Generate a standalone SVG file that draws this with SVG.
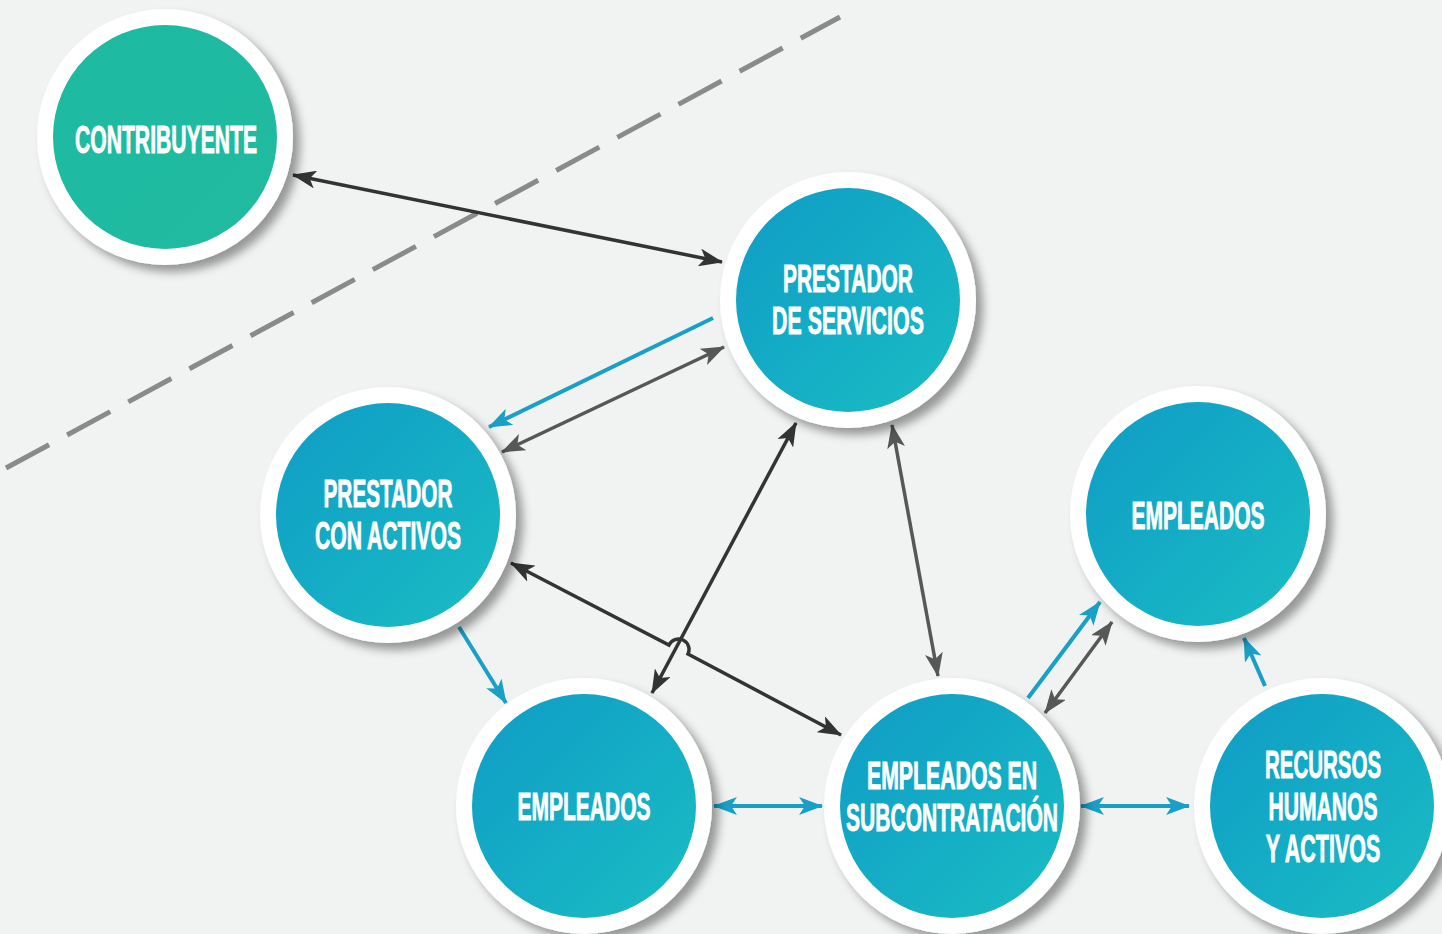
<svg xmlns="http://www.w3.org/2000/svg" width="1442" height="934" viewBox="0 0 1442 934">
<style>
.lbl{font-family:"Liberation Sans",Arial,sans-serif;font-weight:bold;font-size:38px;fill:#ffffff;stroke:#ffffff;stroke-width:0.9}
.ring{fill:#ffffff}
.dark{stroke:#333333;stroke-width:3.5;fill:none}
.gray{stroke:#575757;stroke-width:3.5;fill:none}
.blue{stroke:#1aa0c6;stroke-width:4;fill:none}
</style>
<defs>
<linearGradient id="gb" x1="0" y1="0" x2="1" y2="1">
<stop offset="0" stop-color="#0f9cc6"/>
<stop offset="1" stop-color="#1abdc4"/>
</linearGradient>
<linearGradient id="gg" x1="0" y1="0" x2="1" y2="1">
<stop offset="0" stop-color="#1db9a2"/>
<stop offset="1" stop-color="#20bba0"/>
</linearGradient>
<filter id="sh" x="-20%" y="-20%" width="150%" height="150%">
<feDropShadow dx="7" dy="7" stdDeviation="5" flood-color="#000" flood-opacity="0.38"/>
</filter>
<marker id="md" viewBox="0 0 24 18" refX="23" refY="9" markerWidth="24" markerHeight="18" markerUnits="userSpaceOnUse" orient="auto-start-reverse">
<path d="M0,0 L24,9 L0,18 L6,9 Z" fill="#333333"/>
</marker>
<marker id="mg" viewBox="0 0 24 18" refX="23" refY="9" markerWidth="24" markerHeight="18" markerUnits="userSpaceOnUse" orient="auto-start-reverse">
<path d="M0,0 L24,9 L0,18 L6,9 Z" fill="#575757"/>
</marker>
<marker id="mb" viewBox="0 0 24 18" refX="23" refY="9" markerWidth="24" markerHeight="18" markerUnits="userSpaceOnUse" orient="auto-start-reverse">
<path d="M0,0 L24,9 L0,18 L6,9 Z" fill="#1aa0c6"/>
</marker>
</defs>
<rect width="1442" height="934" fill="#f1f3f3"/>
<line x1="6" y1="468" x2="840" y2="17" stroke="#8a8a8a" stroke-width="5" stroke-dasharray="49 20.5"/>

<g id="connectors">
<line class="dark" x1="293" y1="175" x2="722" y2="262" marker-start="url(#md)" marker-end="url(#md)"/>
<line class="blue" x1="713" y1="318" x2="489" y2="427" marker-end="url(#mb)"/>
<line class="gray" x1="724" y1="347" x2="502" y2="452" marker-start="url(#mg)" marker-end="url(#mg)"/>
<line class="dark" x1="796" y1="423" x2="652" y2="693" marker-start="url(#md)" marker-end="url(#md)"/>
<path class="dark" d="M511,563 L669,645 A10,10 0 0 1 688,654 L841,735" marker-start="url(#md)" marker-end="url(#md)"/>
<line class="gray" x1="892" y1="425" x2="938" y2="676" marker-start="url(#mg)" marker-end="url(#mg)"/>
<line class="blue" x1="459" y1="627" x2="506" y2="703" marker-end="url(#mb)"/>
<line class="blue" x1="714" y1="806" x2="822" y2="806" marker-start="url(#mb)" marker-end="url(#mb)"/>
<line class="blue" x1="1081" y1="806" x2="1189" y2="806" marker-start="url(#mb)" marker-end="url(#mb)"/>
<line class="blue" x1="1028" y1="698" x2="1100" y2="602" marker-end="url(#mb)"/>
<line class="gray" x1="1045" y1="713" x2="1112" y2="622" marker-start="url(#mg)" marker-end="url(#mg)"/>
<line class="blue" x1="1265" y1="686" x2="1244" y2="638" marker-end="url(#mb)"/>
</g>

<g id="n-contribuyente">
<circle class="ring" cx="165" cy="137" r="128" filter="url(#sh)"/>
<circle cx="165" cy="137" r="112" fill="url(#gg)"/>
<text class="lbl" x="166" y="153" text-anchor="middle" textLength="182" lengthAdjust="spacingAndGlyphs">CONTRIBUYENTE</text>
</g>

<g id="n-prestador-servicios">
<circle class="ring" cx="848" cy="300" r="128" filter="url(#sh)"/>
<circle cx="848" cy="300" r="112" fill="url(#gb)"/>
<text class="lbl" x="848" y="292" text-anchor="middle" textLength="130" lengthAdjust="spacingAndGlyphs">PRESTADOR</text>
<text class="lbl" x="848" y="334" text-anchor="middle" textLength="152" lengthAdjust="spacingAndGlyphs">DE SERVICIOS</text>
</g>

<g id="n-prestador-activos">
<circle class="ring" cx="388" cy="515" r="128" filter="url(#sh)"/>
<circle cx="388" cy="515" r="112" fill="url(#gb)"/>
<text class="lbl" x="388" y="507" text-anchor="middle" textLength="129" lengthAdjust="spacingAndGlyphs">PRESTADOR</text>
<text class="lbl" x="388" y="549" text-anchor="middle" textLength="146" lengthAdjust="spacingAndGlyphs">CON ACTIVOS</text>
</g>

<g id="n-empleados-top">
<circle class="ring" cx="1198" cy="514" r="128" filter="url(#sh)"/>
<circle cx="1198" cy="514" r="112" fill="url(#gb)"/>
<text class="lbl" x="1198" y="529" text-anchor="middle" textLength="133" lengthAdjust="spacingAndGlyphs">EMPLEADOS</text>
</g>

<g id="n-empleados-bottom">
<circle class="ring" cx="584" cy="806" r="128" filter="url(#sh)"/>
<circle cx="584" cy="806" r="112" fill="url(#gb)"/>
<text class="lbl" x="584" y="820" text-anchor="middle" textLength="133" lengthAdjust="spacingAndGlyphs">EMPLEADOS</text>
</g>

<g id="n-subcontratacion">
<circle class="ring" cx="952" cy="806" r="128" filter="url(#sh)"/>
<circle cx="952" cy="806" r="112" fill="url(#gb)"/>
<text class="lbl" x="952" y="789" text-anchor="middle" textLength="170" lengthAdjust="spacingAndGlyphs">EMPLEADOS EN</text>
<text class="lbl" x="952" y="831" text-anchor="middle" textLength="212" lengthAdjust="spacingAndGlyphs">SUBCONTRATACIÓN</text>
</g>

<g id="n-recursos">
<circle class="ring" cx="1322" cy="806" r="128" filter="url(#sh)"/>
<circle cx="1322" cy="806" r="112" fill="url(#gb)"/>
<text class="lbl" transform="translate(1323,778) scale(0.54,1)" text-anchor="middle">RECURSOS</text>
<text class="lbl" transform="translate(1323,820) scale(0.555,1)" text-anchor="middle">HUMANOS</text>
<text class="lbl" transform="translate(1323,862) scale(0.566,1)" text-anchor="middle">Y ACTIVOS</text>
</g>
</svg>
